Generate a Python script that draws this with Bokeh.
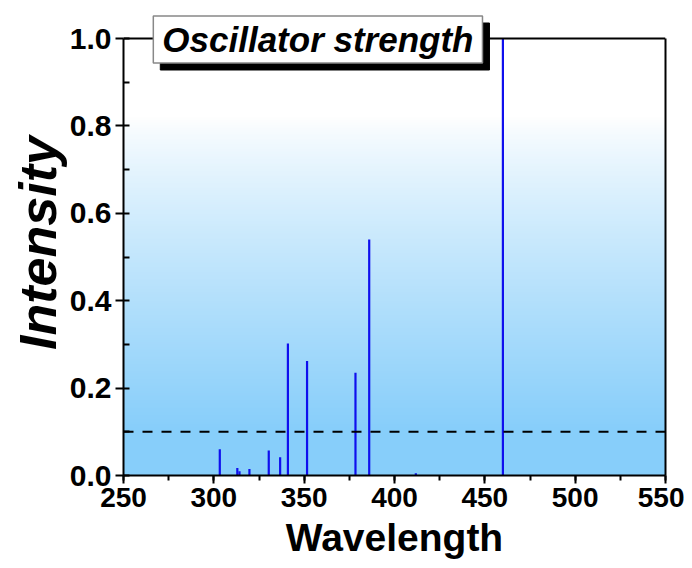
import numpy as np
from bokeh.plotting import figure
from bokeh.models import (Span, Label, SingleIntervalTicker, Range1d, LinearAxis,
                          FixedTicker, PrintfTickFormatter)
from bokeh.embed import file_html
from bokeh.resources import INLINE

# Data
wavelengths = [303.3, 313.0, 314.2, 319.7, 330.4, 336.7, 341.0, 351.6, 378.4, 386.0, 411.8, 460.0]
strengths = [0.060, 0.017, 0.010, 0.015, 0.057, 0.042, 0.302, 0.262, 0.235, 0.540, 0.005, 1.000]
threshold = 0.1
title_text = "Oscillator strength"
x_label = "Wavelength"
y_label = "Intensity"
x_start, x_end = 250, 550
y_start, y_end = 0.0, 1.0

FONT = "Liberation Sans"

# headroom above y=1.0 so the title box can sit over the top frame line
y_view_end = y_end + 28 / 437

p = figure(width=684, height=568, output_backend="svg", toolbar_location=None,
           x_range=Range1d(x_start, x_end), y_range=Range1d(y_start, y_view_end),
           min_border_left=123, min_border_right=19, min_border_top=10, min_border_bottom=93)

# gradient background (white at top -> light sky blue at bottom)
n = 256
ys = np.linspace(y_start, y_end, n)
t = np.clip((0.82 - ys) / 0.72, 0, 1) ** 0.85
top_c = np.array([255, 255, 255])
bot_c = np.array([135, 206, 250])
img = np.zeros((n, 1), dtype=np.uint32)
view = img.view(dtype=np.uint8).reshape((n, 1, 4))
for i in range(n):
    c = top_c + (bot_c - top_c) * t[i]
    view[i, 0, 0] = int(c[0]); view[i, 0, 1] = int(c[1]); view[i, 0, 2] = int(c[2]); view[i, 0, 3] = 255
p.image_rgba(image=[img], x=x_start, y=y_start, dw=x_end - x_start, dh=y_end - y_start)

p.segment(x0=wavelengths, y0=[0] * len(wavelengths), x1=wavelengths, y1=strengths,
          line_color="#0F0FEE", line_width=2.2)

p.add_layout(Span(location=threshold, dimension="width", line_color="black",
                  line_width=2, line_dash="10 9"))
# top frame line at y = 1.0
p.add_layout(Span(location=y_end, dimension="width", line_color="black", line_width=2))

p.grid.visible = False
p.background_fill_color = "white"
p.outline_line_color = None

p.xaxis.ticker = SingleIntervalTicker(interval=50, num_minor_ticks=2)
p.yaxis.ticker = SingleIntervalTicker(interval=0.2, num_minor_ticks=2)
p.yaxis.formatter = PrintfTickFormatter(format="%.1f")
p.yaxis.bounds = (y_start, y_end)

for ax in (p.xaxis[0], p.yaxis[0]):
    ax.axis_line_width = 2
    ax.axis_line_color = "black"
    ax.major_tick_line_width = 2
    ax.minor_tick_line_width = 2
    ax.major_tick_out = 8
    ax.major_tick_in = 0
    ax.major_label_text_font = FONT
    ax.major_label_text_font_style = "bold"
    ax.major_label_text_color = "black"
    ax.axis_label_text_font = FONT
    ax.axis_label_text_color = "black"

p.xaxis.major_label_text_font_size = "28px"
p.yaxis.major_label_text_font_size = "30px"
p.xaxis.minor_tick_out = 5
p.xaxis.minor_tick_in = 0
p.yaxis.minor_tick_out = 0
p.yaxis.minor_tick_in = 6
p.xaxis.major_label_standoff = 4
p.yaxis.major_label_standoff = 4

p.xaxis.axis_label = x_label
p.xaxis.axis_label_text_font_size = "39px"
p.xaxis.axis_label_text_font_style = "bold"
p.xaxis.axis_label_standoff = 6

p.yaxis.axis_label = y_label
p.yaxis.axis_label_text_font_size = "52px"
p.yaxis.axis_label_text_font_style = "bold italic"
p.yaxis.axis_label_standoff = 0

# right frame line
right_axis = LinearAxis(bounds=(y_start, y_end), ticker=FixedTicker(ticks=[]),
                        axis_line_width=2, axis_line_color="black",
                        major_tick_out=0, major_tick_in=0, minor_tick_out=0, minor_tick_in=0,
                        major_label_text_font_size="0px")
p.add_layout(right_axis, "right")

# title box with shadow
tx, ty = 357.6, 0.9977
shadow = Label(x=tx, y=ty, text=title_text, text_align="center", text_baseline="middle",
               text_font=FONT, text_font_size="35px", text_font_style="bold italic",
               text_color="black", background_fill_color="black", border_line_color="black",
               padding=(9, 4), x_offset=7, y_offset=-7)
box = Label(x=tx, y=ty, text=title_text, text_align="center", text_baseline="middle",
            text_font=FONT, text_font_size="35px", text_font_style="bold italic",
            text_color="black", background_fill_color="white", border_line_color="#888888",
            border_line_width=1.5, padding=(9, 4))
p.add_layout(shadow)
p.add_layout(box)

open("out.html", "w").write(file_html(p, INLINE))
